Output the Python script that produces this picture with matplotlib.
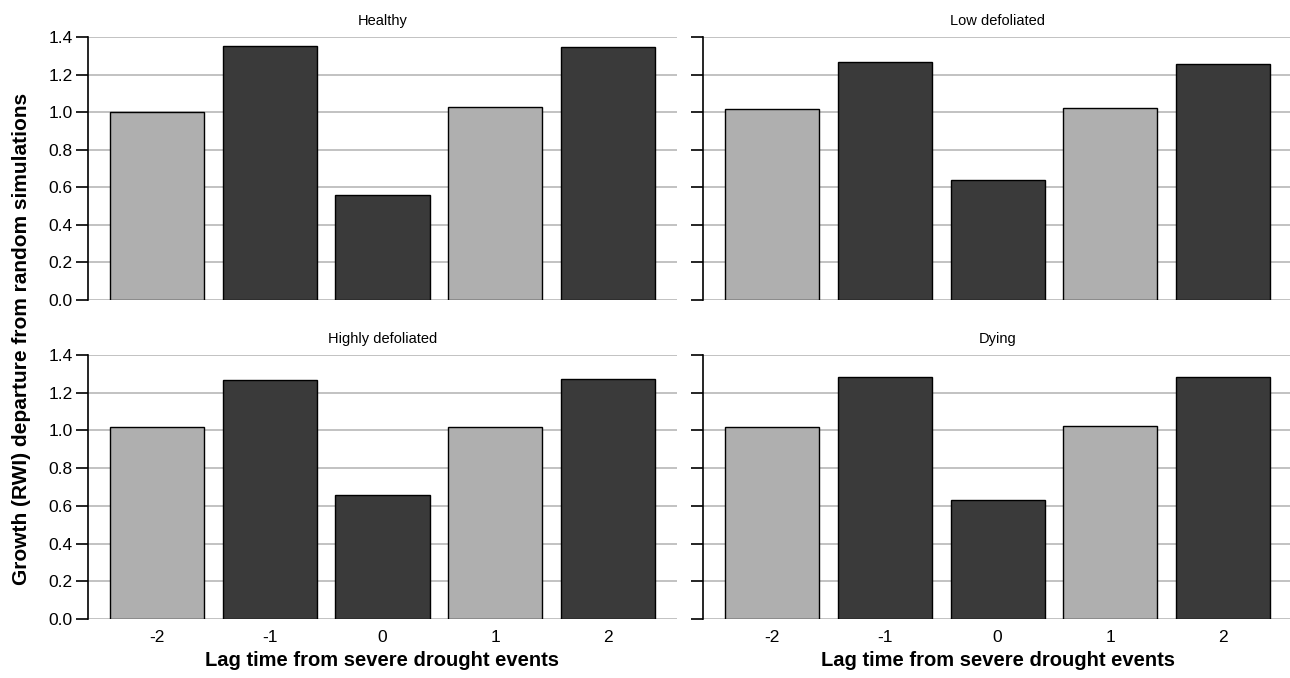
import matplotlib
matplotlib.use("Agg")
import matplotlib.pyplot as plt

plt.rcParams["font.family"] = ["Liberation Sans", "DejaVu Sans"]

lags = [-2, -1, 0, 1, 2]
panel_titles = ["Healthy", "Low defoliated", "Highly defoliated", "Dying"]
healthy = [1.00, 1.35, 0.56, 1.025, 1.345]
low_defoliated = [1.015, 1.265, 0.64, 1.02, 1.255]
highly_defoliated = [1.02, 1.265, 0.66, 1.02, 1.275]
dying = [1.02, 1.285, 0.63, 1.025, 1.285]
bar_colors = ["#afafaf", "#3a3a3a", "#3a3a3a", "#afafaf", "#3a3a3a"]
yticks = [0.0, 0.2, 0.4, 0.6, 0.8, 1.0, 1.2, 1.4]

series = [healthy, low_defoliated, highly_defoliated, dying]

fig = plt.figure(figsize=(12.9, 6.78), dpi=100)

# axes rectangles in figure fractions: left, bottom, width, height
w = 0.4566
rects = [
    (0.0682, 0.5575, w, 0.3879),
    (0.5450, 0.5575, w, 0.3879),
    (0.0682, 0.0870, w, 0.3894),
    (0.5450, 0.0870, w, 0.3894),
]

for i, (vals, title, rect) in enumerate(zip(series, panel_titles, rects)):
    ax = fig.add_axes(rect)
    ax.bar(lags, vals, width=0.834, color=bar_colors, edgecolor="black",
           linewidth=1.0, zorder=3)
    ax.set_xlim(-2.61, 2.61)
    ax.set_ylim(0, 1.4)
    ax.set_yticks(yticks)
    ax.yaxis.grid(True, color="#bdbdbd", linewidth=1.3, zorder=0)
    ax.set_axisbelow(True)
    for s in ["top", "right", "bottom"]:
        ax.spines[s].set_visible(False)
    ax.spines["left"].set_linewidth(1.2)
    ax.spines["left"].set_bounds(0, 1.4)
    ax.tick_params(axis="y", length=9, width=1.2, labelsize=12.5, pad=2)
    ax.tick_params(axis="x", length=0, labelsize=12.5, pad=8)
    ax.set_xticks(lags)
    if i % 2 == 0:
        ax.set_yticklabels([f"{t:.1f}" for t in yticks])
    else:
        ax.set_yticklabels([])
    if i < 2:
        ax.set_xticklabels([])
    else:
        ax.set_xticklabels([str(l) for l in lags])
        ax.set_xlabel("Lag time from severe drought events", fontsize=14.5,
                      fontweight="bold", labelpad=4)
    ax.set_title(title, fontsize=10.5, pad=9)

fig.text(0.017, 0.50, "Growth (RWI) departure from random simulations",
         rotation=90, ha="center", va="center", fontsize=15, fontweight="bold")

fig.savefig("out.png", dpi=100)
